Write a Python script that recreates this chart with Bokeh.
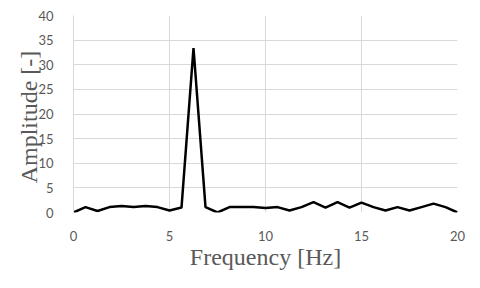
from bokeh.plotting import figure
from bokeh.embed import file_html
from bokeh.resources import INLINE
from bokeh.models import Range1d, FixedTicker

frequency = [i * 0.625 for i in range(33)]
amplitude = [0.0, 1.1, 0.3, 1.1, 1.3, 1.1, 1.3, 1.1, 0.4, 1.0, 33.4, 1.1, 0.0,
             1.1, 1.1, 1.1, 0.9, 1.1, 0.4, 1.1, 2.1, 1.0, 2.1, 1.0, 2.0, 1.1,
             0.4, 1.1, 0.4, 1.1, 1.8, 1.1, 0.0]
x_ticks = [0, 5, 10, 15, 20]
y_ticks = [0, 5, 10, 15, 20, 25, 30, 35, 40]

p = figure(width=480, height=288, output_backend="svg", toolbar_location=None,
           x_range=Range1d(0, 20), y_range=Range1d(0, 40),
           min_border_left=73, min_border_right=23, min_border_top=15, min_border_bottom=76)
p.outline_line_color = None
p.background_fill_color = "white"
p.border_fill_color = "white"

p.line(frequency, amplitude, line_color="black", line_width=2.5)

for ax in (p.xaxis[0], p.yaxis[0]):
    ax.major_tick_line_color = None
    ax.minor_tick_line_color = None
    ax.major_label_text_font = "Lato"
    ax.major_label_text_font_size = "13px"
    ax.major_label_text_color = "#595959"
    ax.axis_label_text_font = "Liberation Serif"
    ax.axis_label_text_font_style = "normal"
    ax.axis_label_text_font_size = "24px"
    ax.axis_label_text_color = "#595959"

p.xaxis.ticker = FixedTicker(ticks=x_ticks)
p.yaxis.ticker = FixedTicker(ticks=y_ticks)
p.xaxis.axis_line_color = None
p.yaxis.axis_line_color = "#d9d9d9"
p.xaxis.major_label_standoff = 12
p.yaxis.major_label_standoff = 14
p.xaxis.axis_label = "Frequency [Hz]"
p.yaxis.axis_label = "Amplitude  [-]"
p.xaxis.axis_label_standoff = 0
p.yaxis.axis_label_standoff = -7

p.xgrid.ticker = FixedTicker(ticks=x_ticks)
p.ygrid.ticker = FixedTicker(ticks=y_ticks)
p.xgrid.grid_line_color = "#d9d9d9"
p.ygrid.grid_line_color = "#d9d9d9"
p.xgrid.grid_line_width = 1
p.ygrid.grid_line_width = 1

open("out.html", "w").write(file_html(p, INLINE))
